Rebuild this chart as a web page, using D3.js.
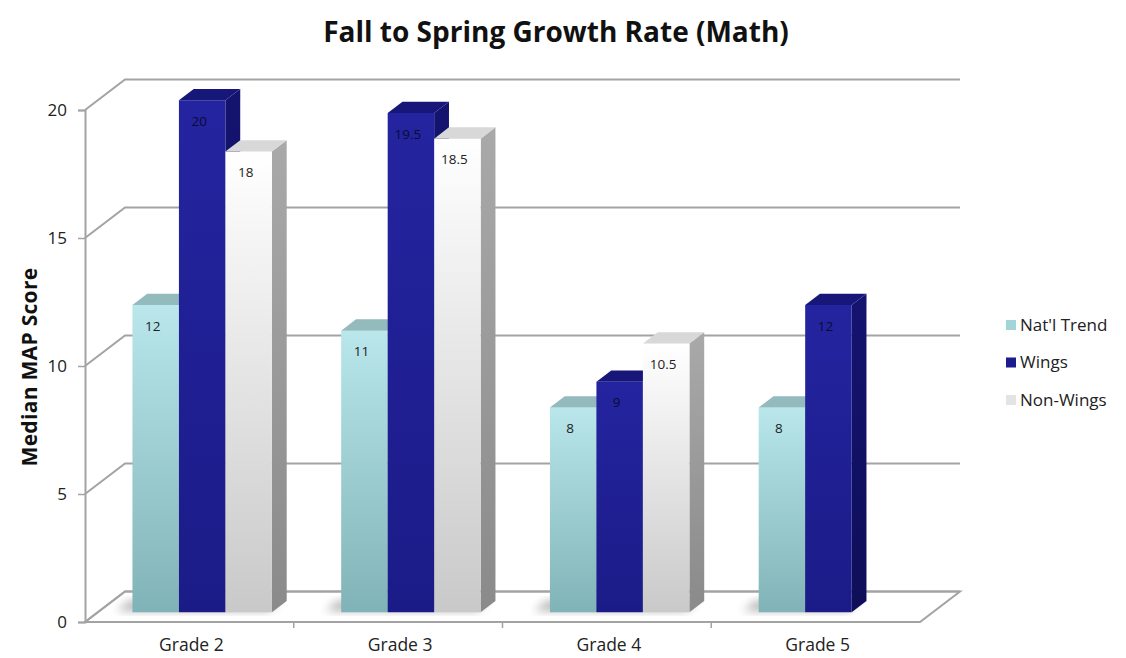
<!DOCTYPE html>
<html>
<head>
<meta charset="utf-8">
<script src="https://cdn.jsdelivr.net/npm/d3@7"></script>
<style>
  html, body { margin: 0; padding: 0; background: #ffffff; }
  svg { display: block; font-family: "Open Sans", "Noto Sans", sans-serif; }
</style>
</head>
<body>
<svg id="chart" width="1126" height="658"></svg>
<script>
// Chart data
const categories = ["Grade 2", "Grade 3", "Grade 4", "Grade 5"];
const seriesNames = ["Nat'l Trend", "Wings", "Non-Wings"];
const natlTrend = [12, 11, 8, 8];
const wings = [20, 19.5, 9, 12];
const nonWings = [18, 18.5, 10.5, null];
const yTicks = [0, 5, 10, 15, 20];
const chartTitle = "Fall to Spring Growth Rate (Math)";
const yTitle = "Median MAP Score";

const seriesValues = [natlTrend, wings, nonWings];

const svg = d3.select("#chart");
const defs = svg.append("defs");

// 3D box geometry: the front plane maps through the scales, depth shifts up-right
const DX = 40, DY = 30.5;
const D0 = 0.32, D1 = 0.69;   // bar front and back depth fractions

const x0 = d3.scaleBand().domain(categories).range([85, 920]);
const x1 = d3.scaleBand().domain(seriesNames).range([0, x0.bandwidth()])
  .paddingInner(0).paddingOuter(0.745);
const y = d3.scaleLinear().domain([0, 20]).range([622, 110]);

const proj = (px, v, d) => [px + DX * d, y(v) - DY * d];
const poly = pts => "M" + pts.map(p => p.join(",")).join("L") + "Z";

// Colour styles per series
const styles = [
  { frontTop: "#b9e7eb", frontBot: "#80b3b7", top: "#93babc", sideTop: "#7fa9ac", sideBot: "#5f8a8d", legend: "#a3d4d8" },
  { frontTop: "#2424a0", frontBot: "#1b1b88", top: "#17177a", sideTop: "#141470", sideBot: "#0e0e58", legend: "#1c1c8e" },
  { frontTop: "#ffffff", frontBot: "#c9c9c9", top: "#d8d8d8", sideTop: "#a9a9a9", sideBot: "#8a8a8a", legend: "#e4e4e4" }
];

styles.forEach((s, i) => {
  const gf = defs.append("linearGradient").attr("id", "front" + i)
    .attr("x1", 0).attr("y1", 0).attr("x2", 0).attr("y2", 1);
  gf.append("stop").attr("offset", "0%").attr("stop-color", s.frontTop);
  gf.append("stop").attr("offset", "100%").attr("stop-color", s.frontBot);
  const gs = defs.append("linearGradient").attr("id", "side" + i)
    .attr("x1", 0).attr("y1", 0).attr("x2", 0).attr("y2", 1);
  gs.append("stop").attr("offset", "0%").attr("stop-color", s.sideTop);
  gs.append("stop").attr("offset", "100%").attr("stop-color", s.sideBot);
});

defs.append("filter").attr("id", "soft").attr("x", "-50%").attr("y", "-50%")
  .attr("width", "200%").attr("height", "200%")
  .append("feGaussianBlur").attr("stdDeviation", 5);

const gridColor = "#a3a3a3";

// Floor outline
const floorPts = [proj(x0.range()[0], 0, 0), proj(x0.range()[1], 0, 0),
                  proj(x0.range()[1], 0, 1), proj(x0.range()[0], 0, 1)];
svg.append("path").attr("d", poly(floorPts))
  .attr("fill", "none").attr("stroke", gridColor).attr("stroke-width", 2);

// Back wall gridlines and left wall diagonals
const grid = svg.append("g");
yTicks.forEach(t => {
  const a = proj(x0.range()[0], t, 0), b = proj(x0.range()[0], t, 1), c = proj(x0.range()[1], t, 1);
  grid.append("path").attr("d", `M${a}L${b}L${c}`)
    .attr("fill", "none").attr("stroke", gridColor).attr("stroke-width", 2);
});

// Soft floor shadows under each bar group
categories.forEach((cat, ci) => {
  const present = seriesNames.filter((s, si) => seriesValues[si][ci] != null);
  const xl = x0(cat) + x1(present[0]);
  const xr = x0(cat) + x1(present[present.length - 1]) + x1.bandwidth();
  const pts = [proj(xl - 18, 0, D0 + 0.05), proj(xr - 6, 0, D0 + 0.05),
               proj(xr - 6, 0, D1), proj(xl - 18, 0, D1)];
  svg.append("path").attr("d", poly(pts))
    .attr("fill", "#000").attr("opacity", 0.3).attr("filter", "url(#soft)");
});

// Bars, drawn left to right so neighbours overlap correctly
const bars = svg.append("g");
const labels = [];
categories.forEach((cat, ci) => {
  seriesNames.forEach((s, si) => {
    const v = seriesValues[si][ci];
    if (v == null) return;
    const xl = x0(cat) + x1(s), xr = xl + x1.bandwidth();
    const g = bars.append("g");
    g.append("path").attr("d", poly([proj(xr, 0, D0), proj(xr, 0, D1), proj(xr, v, D1), proj(xr, v, D0)]))
      .attr("fill", `url(#side${si})`);
    g.append("path").attr("d", poly([proj(xl, 0, D0), proj(xr, 0, D0), proj(xr, v, D0), proj(xl, v, D0)]))
      .attr("fill", `url(#front${si})`);
    g.append("path").attr("d", poly([proj(xl, v, D0), proj(xr, v, D0), proj(xr, v, D1), proj(xl, v, D1)]))
      .attr("fill", styles[si].top);
    const [lx, ly] = proj((xl + xr) / 2 - 3, v, D0);
    labels.push({ x: lx, y: ly + 22, text: String(v), dark: si === 1 });
  });
});

// Value labels on the bar faces
svg.append("g").selectAll("text").data(labels).join("text")
  .attr("x", d => d.x).attr("y", d => d.y)
  .attr("text-anchor", "middle").attr("dominant-baseline", "middle")
  .attr("font-size", 13.5)
  .attr("fill", d => d.dark ? "#0b0b33" : "#222222")
  .text(d => d.text);

// Front x-axis line with category separators
svg.append("line")
  .attr("x1", x0.range()[0]).attr("x2", x0.range()[1])
  .attr("y1", y(0)).attr("y2", y(0))
  .attr("stroke", gridColor).attr("stroke-width", 2);
categories.slice(1).forEach(cat => {
  svg.append("line").attr("x1", x0(cat)).attr("x2", x0(cat))
    .attr("y1", y(0)).attr("y2", y(0) + 6)
    .attr("stroke", gridColor).attr("stroke-width", 1.5);
});

const xAxis = svg.append("g").attr("transform", `translate(2,${y(0)})`)
  .call(d3.axisBottom(x0).tickSize(0).tickPadding(17));
xAxis.select(".domain").remove();
xAxis.selectAll("text").attr("font-size", 17.5).attr("fill", "#222")
  .attr("font-family", "Open Sans, sans-serif");

// Y axis on the front left edge
const yAxis = svg.append("g").attr("transform", `translate(${x0.range()[0]},0)`)
  .call(d3.axisLeft(y).tickValues(yTicks).tickSize(7).tickPadding(11).tickFormat(d3.format("d")));
yAxis.select(".domain").attr("stroke", gridColor).attr("stroke-width", 2);
yAxis.selectAll(".tick line").attr("stroke", gridColor).attr("stroke-width", 1.5);
yAxis.selectAll("text").attr("font-size", 17).attr("fill", "#222")
  .attr("font-family", "Open Sans, sans-serif");

// Titles
svg.append("text").attr("x", 556).attr("y", 42)
  .attr("text-anchor", "middle").attr("font-size", 28).attr("font-weight", "bold")
  .attr("fill", "#111").text(chartTitle);

svg.append("text").attr("transform", "translate(37,367) rotate(-90)")
  .attr("text-anchor", "middle").attr("font-size", 21).attr("font-weight", "bold")
  .attr("letter-spacing", 0.3)
  .attr("fill", "#111").text(yTitle);

// Legend
const legend = svg.append("g").attr("transform", "translate(1006,325)");
seriesNames.forEach((s, i) => {
  const g = legend.append("g").attr("transform", `translate(0,${i * 37.5})`);
  g.append("rect").attr("x", 0).attr("y", -5).attr("width", 10).attr("height", 10)
    .attr("fill", styles[i].legend);
  g.append("text").attr("x", 14).attr("y", 1).attr("dominant-baseline", "middle")
    .attr("font-size", 17).attr("fill", "#222").text(s);
});
</script>
</body>
</html>
